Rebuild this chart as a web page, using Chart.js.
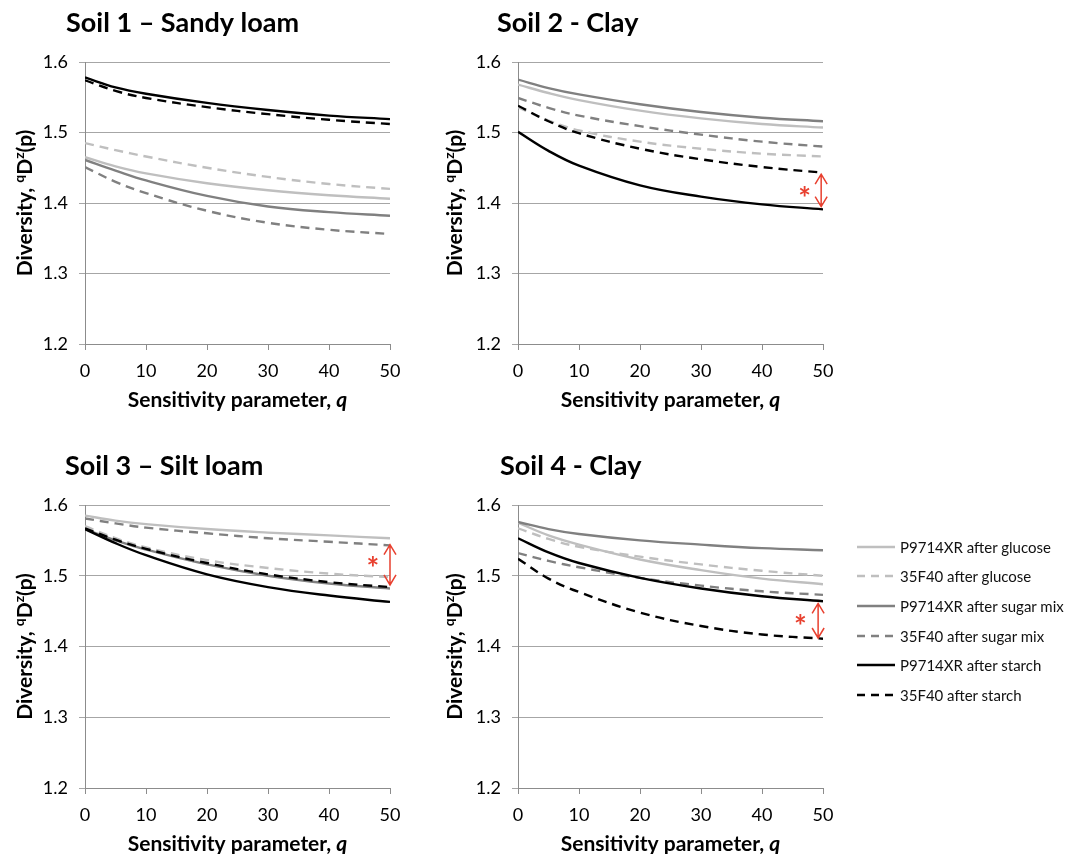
<!DOCTYPE html>
<html>
<head>
<meta charset="utf-8">
<script src="https://cdn.jsdelivr.net/npm/chart.js@4.4.1/dist/chart.umd.min.js"></script>
<style>
  body { margin: 0; background: #fff; }
  #page { position: relative; width: 1071px; height: 854px; overflow: hidden; font-family: Lato, sans-serif; }
  .panel { position: absolute; }
  #legend { position: absolute; left: 857px; top: 532px; }
  .row { height: 29.6px; display: flex; align-items: center; font-size: 15px; color: #111; white-space: nowrap; }
  .row svg { margin-right: 5px; }
</style>
</head>
<body>
<div id="page">
  <div class="panel" style="left:0;top:0"><canvas id="soil1" width="430" height="420"></canvas></div>
  <div class="panel" style="left:430px;top:0"><canvas id="soil2" width="430" height="420"></canvas></div>
  <div class="panel" style="left:0;top:440px"><canvas id="soil3" width="430" height="414"></canvas></div>
  <div class="panel" style="left:430px;top:440px"><canvas id="soil4" width="430" height="414"></canvas></div>
  <div id="legend"></div>
</div>
<script>
// sensitivity parameter q where the curves were read
const qValues = [0, 5, 10, 20, 30, 40, 50];

const seriesLabels = [
  'P9714XR after glucose', '35F40 after glucose',
  'P9714XR after sugar mix', '35F40 after sugar mix',
  'P9714XR after starch', '35F40 after starch'
];
const seriesColors = ['#bfbfbf', '#bfbfbf', '#808080', '#808080', '#000000', '#000000'];
const seriesDashed = [false, true, false, true, false, true];

const soilTitles = ['Soil 1 \u2013 Sandy loam', 'Soil 2 - Clay', 'Soil 3 \u2013 Silt loam', 'Soil 4 - Clay'];

// one row per series, same order as seriesLabels
const soil1Values = [
  [1.465, 1.452, 1.442, 1.428, 1.418, 1.411, 1.406],
  [1.485, 1.475, 1.466, 1.450, 1.437, 1.427, 1.420],
  [1.461, 1.446, 1.432, 1.410, 1.395, 1.387, 1.382],
  [1.451, 1.430, 1.414, 1.389, 1.372, 1.362, 1.356],
  [1.578, 1.564, 1.555, 1.542, 1.532, 1.524, 1.519],
  [1.574, 1.559, 1.549, 1.536, 1.526, 1.518, 1.512]
];
const soil2Values = [
  [1.568, 1.556, 1.546, 1.531, 1.520, 1.512, 1.507],
  [1.536, 1.517, 1.503, 1.487, 1.477, 1.470, 1.466],
  [1.575, 1.563, 1.554, 1.540, 1.529, 1.521, 1.516],
  [1.549, 1.535, 1.524, 1.509, 1.497, 1.487, 1.480],
  [1.501, 1.474, 1.453, 1.425, 1.409, 1.398, 1.391],
  [1.538, 1.516, 1.499, 1.477, 1.462, 1.451, 1.443]
];
const soil3Values = [
  [1.585, 1.578, 1.573, 1.566, 1.561, 1.557, 1.553],
  [1.570, 1.553, 1.540, 1.522, 1.511, 1.503, 1.498],
  [1.566, 1.550, 1.537, 1.516, 1.500, 1.489, 1.482],
  [1.581, 1.574, 1.568, 1.560, 1.553, 1.548, 1.543],
  [1.566, 1.546, 1.529, 1.502, 1.484, 1.472, 1.463],
  [1.567, 1.551, 1.538, 1.518, 1.502, 1.491, 1.484]
];
const soil4Values = [
  [1.575, 1.557, 1.544, 1.523, 1.508, 1.496, 1.488],
  [1.567, 1.552, 1.541, 1.527, 1.516, 1.507, 1.500],
  [1.576, 1.566, 1.559, 1.550, 1.544, 1.539, 1.536],
  [1.532, 1.521, 1.512, 1.497, 1.486, 1.478, 1.473],
  [1.553, 1.533, 1.518, 1.497, 1.482, 1.471, 1.464],
  [1.524, 1.496, 1.477, 1.448, 1.429, 1.417, 1.411]
];

// significance markers: q of arrow, top / bottom value, star position
const sigArrows = [
  null,
  { q: 49.7, top: 1.441, bottom: 1.395, starQ: 47.0, starY: 1.414 },
  { q: 50.0, top: 1.544, bottom: 1.487, starQ: 47.2, starY: 1.518 },
  { q: 49.2, top: 1.461, bottom: 1.412, starQ: 46.3, starY: 1.436 }
];

const yMin = 1.2, yMax = 1.6, yStep = 0.1;
const xMin = 0, xMax = 50, xStep = 10;

const FONT = 'Lato, sans-serif';
const RED = '#e8402f';

// canvas-relative layout of each panel
const panels = [
  { id: 'soil1', values: soil1Values, w: 430, h: 420, l: 85, r: 390, t: 62, b: 344, tx: 66, ty: 32 },
  { id: 'soil2', values: soil2Values, w: 430, h: 420, l: 88, r: 393, t: 62, b: 344, tx: 67, ty: 32 },
  { id: 'soil3', values: soil3Values, w: 430, h: 414, l: 85, r: 390, t: 65, b: 348, tx: 65, ty: 35 },
  { id: 'soil4', values: soil4Values, w: 430, h: 414, l: 88, r: 393, t: 65, b: 348, tx: 70, ty: 35 }
];

const decor = {
  id: 'decor',
  afterDraw(chart, args, opts) {
    const { ctx, chartArea: a, scales: { x, y } } = chart;
    ctx.save();
    ctx.fillStyle = '#000';
    ctx.textAlign = 'left';
    ctx.textBaseline = 'alphabetic';

    // panel title
    ctx.font = 'bold 27px ' + FONT;
    ctx.fillText(opts.title, opts.tx, opts.ty);

    // x axis title, q in italics
    const xa = 'Sensitivity parameter, ';
    ctx.font = 'bold 21px ' + FONT;
    const w1 = ctx.measureText(xa).width;
    ctx.font = 'italic bold 21px ' + FONT;
    const w2 = ctx.measureText('q').width;
    let sx = (a.left + a.right) / 2 - (w1 + w2) / 2;
    ctx.font = 'bold 21px ' + FONT;
    ctx.fillText(xa, sx, a.bottom + 63);
    ctx.font = 'italic bold 21px ' + FONT;
    ctx.fillText('q', sx + w1, a.bottom + 63);

    // y axis title with superscripts
    const parts = [['Diversity, ', 21, 0], ['q', 14, 8], ['D', 21, 0], ['z', 14, 8], ['(p)', 21, 0]];
    let total = 0;
    parts.forEach(p => { ctx.font = 'bold ' + p[1] + 'px ' + FONT; p.push(ctx.measureText(p[0]).width); total += p[3]; });
    ctx.save();
    ctx.translate(32, (a.top + a.bottom) / 2);
    ctx.rotate(-Math.PI / 2);
    let px = -total / 2;
    parts.forEach(p => {
      ctx.font = 'bold ' + p[1] + 'px ' + FONT;
      ctx.fillText(p[0], px, -p[2]);
      px += p[3];
    });
    ctx.restore();

    // significance arrow
    const s = opts.sig;
    if (s) {
      const ax = x.getPixelForValue(s.q);
      const y1 = y.getPixelForValue(s.top), y2 = y.getPixelForValue(s.bottom);
      ctx.strokeStyle = RED;
      ctx.lineWidth = 1.5;
      ctx.beginPath();
      ctx.moveTo(ax, y1); ctx.lineTo(ax, y2);
      ctx.moveTo(ax - 6, y1 + 10); ctx.lineTo(ax, y1); ctx.lineTo(ax + 6, y1 + 10);
      ctx.moveTo(ax - 6, y2 - 10); ctx.lineTo(ax, y2); ctx.lineTo(ax + 6, y2 - 10);
      ctx.stroke();
      ctx.fillStyle = RED;
      ctx.font = 'bold 30px ' + FONT;
      ctx.textAlign = 'center';
      ctx.textBaseline = 'middle';
      ctx.fillText('*', x.getPixelForValue(s.starQ), y.getPixelForValue(s.starY) + 6);
    }
    ctx.restore();
  }
};

panels.forEach((p, i) => {
  const datasets = p.values.map((vals, k) => ({
    label: seriesLabels[k],
    data: vals.map((v, j) => ({ x: qValues[j], y: v })),
    borderColor: seriesColors[k],
    borderWidth: 2.4,
    borderDash: seriesDashed[k] ? [9, 6] : [],
    pointRadius: 0,
    fill: false,
    tension: 0.4,
    order: seriesLabels.length - k
  }));

  new Chart(document.getElementById(p.id), {
    type: 'line',
    data: { datasets },
    plugins: [decor],
    options: {
      responsive: false,
      animation: false,
      layout: { padding: { top: p.t, right: p.w - p.r, left: 0, bottom: 0 } },
      plugins: {
        legend: { display: false },
        tooltip: { enabled: false },
        decor: { title: soilTitles[i], tx: p.tx, ty: p.ty, sig: sigArrows[i] }
      },
      scales: {
        x: {
          type: 'linear', min: xMin, max: xMax,
          afterFit: s => { s.height = p.h - p.b; },
          ticks: { stepSize: xStep, color: '#000', font: { family: FONT, size: 18 }, padding: 10 },
          grid: { drawOnChartArea: false, drawTicks: true, tickLength: 6, color: '#8c8c8c' },
          border: { color: '#8c8c8c' }
        },
        y: {
          min: yMin, max: yMax,
          afterFit: s => { s.width = p.l; },
          ticks: { stepSize: yStep, color: '#000', font: { family: FONT, size: 18 }, padding: 11,
                   callback: v => v.toFixed(1) },
          grid: { color: '#a6a6a6', tickLength: 6 },
          border: { color: '#8c8c8c' }
        }
      }
    }
  });
});

// legend
const legend = document.getElementById('legend');
seriesLabels.forEach((name, k) => {
  const row = document.createElement('div');
  row.className = 'row';
  row.innerHTML = '<svg width="38" height="4"><line x1="0" y1="2" x2="38" y2="2" stroke="' + seriesColors[k] +
    '" stroke-width="2.4"' + (seriesDashed[k] ? ' stroke-dasharray="8 6"' : '') + '/></svg>' + name;
  legend.appendChild(row);
});
</script>
</body>
</html>
